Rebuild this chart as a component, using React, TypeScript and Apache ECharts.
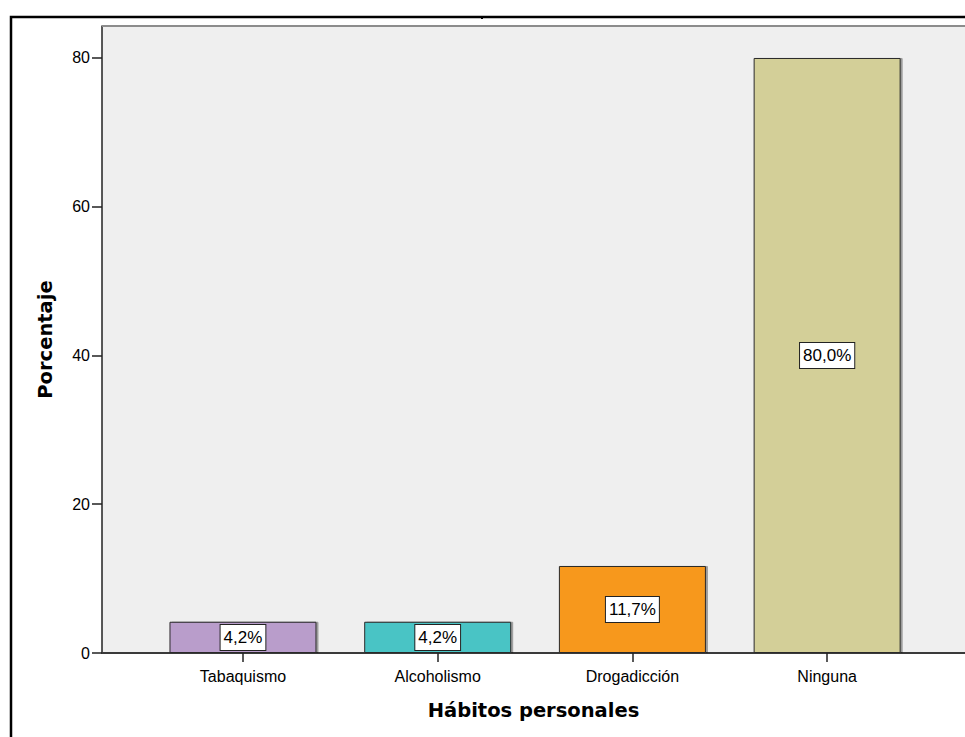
import React, { useEffect, useRef } from "react";
import * as echarts from "echarts";

// Habit categories and their percentages
const categories = ["Tabaquismo", "Alcoholismo", "Drogadicción", "Ninguna"];
const percentages = [4.2, 4.2, 11.7, 80.0];
const barColors = ["#b99dcb", "#48c4c5", "#f7981e", "#d3cf98"];
const yTicks = [0, 20, 40, 60, 80];
const categoryPositions = [1, 2, 3, 4];

const fmtPct = (v: number) => v.toFixed(1).replace(".", ",") + "%";

const PLOT_LEFT = 102;
const PLOT_TOP = 26;

export default function App() {
  const ref = useRef<HTMLDivElement>(null);

  useEffect(() => {
    if (!ref.current) return;
    const chart = echarts.init(ref.current, undefined, { renderer: "svg" });

    const data = percentages.map((v, i) => ({
      value: [categoryPositions[i], v],
      itemStyle: { color: barColors[i] },
    }));

    chart.setOption({
      animation: false,
      backgroundColor: "#ffffff",
      grid: {
        left: PLOT_LEFT,
        top: PLOT_TOP,
        right: 0,
        bottom: 84,
        show: true,
        backgroundColor: "#efefef",
        borderWidth: 0,
      },
      xAxis: {
        type: "value",
        min: 0.276,
        max: 4.708,
        splitLine: { show: false },
        axisLine: { show: true, lineStyle: { color: "#3a3a3a", width: 2 } },
        axisTick: {
          show: true,
          customValues: categoryPositions,
          length: 9,
          lineStyle: { color: "#222", width: 1.5 },
        },
        axisLabel: {
          customValues: categoryPositions,
          formatter: (v: number) => categories[Math.round(v) - 1] ?? "",
          margin: 15,
          fontFamily: "Liberation Sans, Arial, sans-serif",
          fontSize: 16,
          color: "#000",
        },
        name: "Hábitos personales",
        nameLocation: "middle",
        nameGap: 47,
        nameTextStyle: {
          fontFamily: "DejaVu Sans, sans-serif",
          fontWeight: "bold",
          fontSize: 19.5,
          color: "#000",
        },
      },
      yAxis: {
        type: "value",
        min: 0,
        max: 84.3,
        splitLine: { show: false },
        axisLine: { show: true, lineStyle: { color: "#222", width: 1.5 } },
        axisTick: {
          show: true,
          customValues: yTicks,
          length: 10,
          lineStyle: { color: "#222", width: 1.5 },
        },
        axisLabel: {
          customValues: yTicks,
          margin: 12,
          fontFamily: "Liberation Sans, Arial, sans-serif",
          fontSize: 16,
          color: "#000",
        },
        name: "Porcentaje",
        nameLocation: "middle",
        nameGap: 47,
        nameRotate: 90,
        nameTextStyle: {
          fontFamily: "DejaVu Sans, sans-serif",
          fontWeight: "bold",
          fontSize: 19.5,
          color: "#000",
        },
      },
      series: [
        {
          type: "bar",
          data,
          barWidth: 147,
          itemStyle: {
            borderColor: "#2a2a2a",
            borderWidth: 1,
            shadowColor: "rgba(0,0,0,0.35)",
            shadowOffsetX: 2,
            shadowOffsetY: 0,
            shadowBlur: 0,
          },
          label: {
            show: true,
            position: "inside",
            formatter: (p: any) => fmtPct(p.value[1]),
            fontFamily: "Liberation Sans, Arial, sans-serif",
            fontSize: 17,
            color: "#000",
            backgroundColor: "#ffffff",
            borderColor: "#222",
            borderWidth: 1,
            padding: [5, 3, 3, 3],
          },
        },
      ],
      graphic: [
        // top edge of the plot frame
        {
          type: "line",
          shape: { x1: PLOT_LEFT, y1: PLOT_TOP, x2: 965, y2: PLOT_TOP },
          style: { stroke: "#8c8c8c", lineWidth: 2 },
          z: 50,
        },
        // outer border of the figure
        {
          type: "polyline",
          shape: { points: [[11, 737], [11, 17], [965, 17]] },
          style: { stroke: "#000", lineWidth: 2.5, fill: "none" },
          z: 100,
        },
        {
          type: "rect",
          shape: { x: 481, y: 17, width: 2, height: 2 },
          style: { fill: "#000" },
          z: 100,
        },
      ],
    });

    return () => chart.dispose();
  }, []);

  return (
    <div
      ref={ref}
      style={{ position: "absolute", left: 0, top: 0, width: 965, height: 737 }}
    />
  );
}
